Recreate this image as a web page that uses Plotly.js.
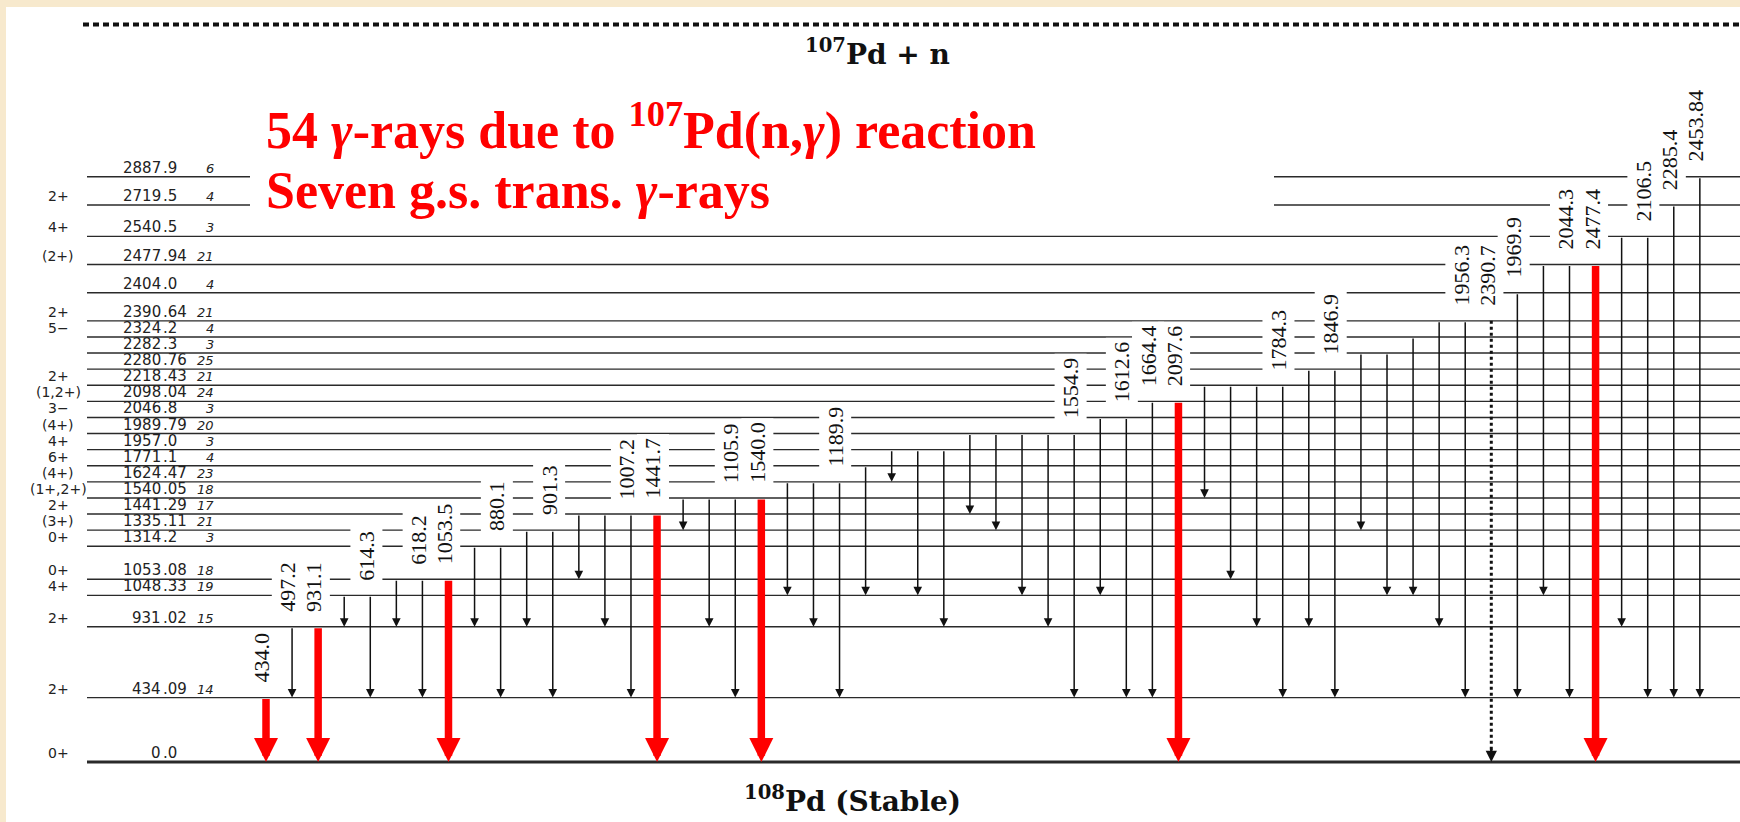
<!DOCTYPE html>
<html>
<head>
<meta charset="utf-8">
<script src="https://cdn.plot.ly/plotly-3.0.1.min.js"></script>
<style>
  html, body { margin: 0; padding: 0; background: #f7e9cd; }
  #chart { width: 1740px; height: 822px; }
</style>
</head>
<body>
<div id="chart"></div>
<script>
// ---- 108Pd levels populated by 107Pd(n,γ) ----
const levelEnergy = [0.0, 434.09, 931.02, 1048.33, 1053.08, 1314.2, 1335.11, 1441.29, 1540.05,
  1624.47, 1771.1, 1957.0, 1989.79, 2046.8, 2098.04, 2218.43, 2280.76, 2282.3, 2324.2,
  2390.64, 2404.0, 2477.94, 2540.5, 2719.5, 2887.9];
const levelLabel = ["0.0", "434.09", "931.02", "1048.33", "1053.08", "1314.2", "1335.11", "1441.29",
  "1540.05", "1624.47", "1771.1", "1957.0", "1989.79", "2046.8", "2098.04", "2218.43", "2280.76",
  "2282.3", "2324.2", "2390.64", "2404.0", "2477.94", "2540.5", "2719.5", "2887.9"];
const levelSpin = ["0+", "2+", "2+", "4+", "0+", "0+", "(3+)", "2+", "(1+,2+)", "(4+)", "6+", "4+",
  "(4+)", "3\u2212", "(1,2+)", "2+", "", "", "5\u2212", "2+", "", "(2+)", "4+", "2+", ""];
const levelIntensity = ["", "14", "15", "19", "18", "3", "21", "17", "18", "23", "4", "3", "20", "3",
  "24", "21", "25", "3", "4", "21", "4", "21", "3", "4", "6"];

// ---- γ transitions (initial level → final level), in drawing order ----
const gammaFrom = [434.09, 931.02, 931.02, 1048.33, 1048.33, 1053.08, 1053.08, 1053.08, 1314.2, 1314.2,
  1335.11, 1335.11, 1441.29, 1441.29, 1441.29, 1441.29, 1540.05, 1540.05, 1540.05, 1540.05,
  1624.47, 1624.47, 1624.47, 1771.1, 1957.0, 1957.0, 1957.0, 1989.79, 1989.79, 1989.79, 1989.79,
  1989.79, 2046.8, 2046.8, 2098.04, 2098.04, 2218.43, 2218.43, 2218.43, 2218.43, 2280.76, 2280.76,
  2282.3, 2282.3, 2324.2, 2390.64, 2390.64, 2390.64, 2404.0, 2477.94, 2477.94, 2477.94, 2540.5,
  2540.5, 2719.5, 2887.9];
const gammaTo = [0.0, 434.09, 0.0, 931.02, 434.09, 931.02, 434.09, 0.0, 931.02, 434.09,
  931.02, 434.09, 1053.08, 931.02, 434.09, 0.0, 1335.11, 931.02, 434.09, 0.0,
  1048.33, 931.02, 434.09, 1048.33, 1624.47, 1048.33, 931.02, 1441.29, 1335.11, 1048.33, 931.02,
  434.09, 1048.33, 434.09, 434.09, 0.0, 1540.05, 1053.08, 931.02, 434.09, 931.02, 434.09,
  1335.11, 1048.33, 1048.33, 931.02, 434.09, 0.0, 434.09, 1048.33, 434.09, 0.0, 931.02,
  434.09, 434.09, 434.09];
const gammaLabel = ["434.0", "497.2", "931.1", "", "614.3", "", "618.2", "1053.5", "", "880.1",
  "", "901.3", "", "", "1007.2", "1441.7", "", "", "1105.9", "1540.0",
  "", "", "1189.9", "", "", "", "", "", "", "",
  "", "1554.9", "", "1612.6", "1664.4", "2097.6", "", "", "", "1784.3",
  "", "1846.9", "", "", "", "", "1956.3", "2390.7", "1969.9", "",
  "2044.3", "2477.4", "", "2106.5", "2285.4", "2453.84"];
const tentativeGammas = ["2390.7"];

// ---- drawing layout (schematic level scheme, not to energy scale) ----
// vertical slot of each level, in rows above the ground state
const levelSlot = [0, 4, 8.4, 10.35, 11.35, 13.4, 14.4, 15.4, 16.4, 17.4, 18.4, 19.4, 20.4, 21.4,
  22.4, 23.4, 24.4, 25.4, 26.4, 27.4, 29.15, 30.9, 32.65, 34.6, 36.35];
const separationSlot = 45.8;   // 107Pd + n threshold line

const X0 = 6, Y0 = 7, W = 1734, H = 815;      // white drawing panel
const col0 = 266, colStep = 26.07;             // first transition column, column pitch (px)
const row0 = 762, rowStep = 16.1;              // ground-state line, row pitch (px)
const xRange = [-(col0 - X0) / colStep, (X0 + W - col0) / colStep];
const yRange = [-(Y0 + H - row0) / rowStep, (row0 - Y0) / rowStep];
const px = v => (v - X0) / W;
const py = v => 1 - (v - Y0) / H;

const slotOf = e => levelSlot[levelEnergy.indexOf(e)];

const shapes = [];
const annotations = [];
const traces = [];

// level lines
levelEnergy.forEach((e, i) => {
  shapes.push({
    type: 'line', xref: 'paper', yref: 'y', layer: 'below',
    x0: px(87), x1: 1, y0: levelSlot[i], y1: levelSlot[i],
    line: { color: '#2a2a2a', width: i === 0 ? 3 : 1.4 }
  });
});
// neutron separation threshold
shapes.push({
  type: 'line', xref: 'paper', yref: 'y', layer: 'below',
  x0: px(83), x1: 1, y0: separationSlot, y1: separationSlot,
  line: { color: '#111', width: 4, dash: '6px,4px' }
});
// panel behind the headline text
shapes.push({
  type: 'rect', xref: 'paper', yref: 'paper', layer: 'below',
  x0: px(250), x1: px(1274), y0: py(222), y1: py(92),
  fillcolor: '#ffffff', line: { width: 0 }
});

// level annotations: spin-parity, energy (decimal aligned), intensity
const levFont = { family: 'DejaVu Sans, sans-serif', size: 14, color: '#222' };
levelEnergy.forEach((e, i) => {
  const y = levelSlot[i];
  const base = { xref: 'paper', yref: 'y', y: y, yanchor: 'bottom', yshift: -1, showarrow: false };
  if (levelSpin[i]) annotations.push(Object.assign({}, base, {
    x: px(58), xanchor: 'center', text: levelSpin[i], font: levFont }));
  const parts = levelLabel[i].split('.');
  annotations.push(Object.assign({}, base, {
    x: px(162), xanchor: 'right', text: parts[0], font: Object.assign({}, levFont, { size: 15 }), borderpad: 0 }));
  annotations.push(Object.assign({}, base, {
    x: px(162), xanchor: 'left', text: '.' + parts[1], font: Object.assign({}, levFont, { size: 15 }), borderpad: 0 }));
  if (levelIntensity[i]) annotations.push(Object.assign({}, base, {
    x: px(216), xanchor: 'right', text: '<i>' + levelIntensity[i] + '</i>',
    font: Object.assign({}, levFont, { size: 13 }) }));
});

// transition energy labels (rotated, on a white ground that breaks the level lines)
gammaLabel.forEach((lab, i) => {
  if (!lab) return;
  annotations.push({
    xref: 'x', yref: 'y', x: i, y: slotOf(gammaFrom[i]),
    xanchor: 'center', yanchor: 'bottom', xshift: -4, yshift: 11,
    textangle: -90, text: lab, showarrow: false,
    font: { family: 'Liberation Serif, Times New Roman, serif', size: 22, color: '#111' },
    bgcolor: '#ffffff', borderpad: 3
  });
});

// transition arrows
gammaLabel.forEach((lab, i) => {
  const yFrom = slotOf(gammaFrom[i]);
  const yTo = slotOf(gammaTo[i]);
  const tentative = tentativeGammas.includes(lab);
  const groundState = gammaTo[i] === 0 && !tentative;
  if (tentative) {
    traces.push({
      type: 'scatter', mode: 'lines', x: [i, i], y: [yFrom, yTo + 0.6],
      line: { color: '#111', width: 3, dash: '3px,3px' }, hoverinfo: 'skip', showlegend: false
    });
    annotations.push({
      xref: 'x', yref: 'y', axref: 'x', ayref: 'y', x: i, y: yTo, ax: i, ay: yTo + 0.9,
      text: '', showarrow: true, arrowhead: 2, arrowwidth: 2.5, arrowsize: 0.9, arrowcolor: '#111', standoff: 0
    });
  } else if (groundState) {
    annotations.push({
      xref: 'x', yref: 'y', axref: 'x', ayref: 'y', x: i, y: yTo, ax: i, ay: yFrom,
      text: '', showarrow: true, arrowhead: 2, arrowwidth: 7.5, arrowsize: 0.64, arrowcolor: '#ff0000', standoff: 0
    });
  } else {
    annotations.push({
      xref: 'x', yref: 'y', axref: 'x', ayref: 'y', x: i, y: yTo, ax: i, ay: yFrom,
      text: '', showarrow: true, arrowhead: 2, arrowwidth: 1.5, arrowsize: 1.15, arrowcolor: '#111', standoff: 0
    });
  }
});

// headline and nucleus captions
const redFont = { family: 'Liberation Serif, Times New Roman, serif', size: 52, color: '#ff0000' };
annotations.push({
  xref: 'paper', yref: 'paper', x: px(264), y: py(127), xanchor: 'left', yanchor: 'middle',
  text: '<b>54 <i>\u03b3</i>-rays due to <sup>107</sup>Pd(n,<i>\u03b3</i>) reaction</b>', font: redFont, showarrow: false
});
annotations.push({
  xref: 'paper', yref: 'paper', x: px(264), y: py(190), xanchor: 'left', yanchor: 'middle',
  text: '<b>Seven g.s. trans. <i>\u03b3</i>-rays</b>', font: redFont, showarrow: false
});
const nucFont = { family: 'DejaVu Serif, serif', size: 28, color: '#111' };
annotations.push({
  xref: 'paper', yref: 'paper', x: px(877), y: py(52), xanchor: 'center', yanchor: 'middle',
  text: '<b><sup>107</sup>Pd + n</b>', font: nucFont, showarrow: false
});
annotations.push({
  xref: 'paper', yref: 'paper', x: px(852), y: py(799), xanchor: 'center', yanchor: 'middle',
  text: '<b><sup>108</sup>Pd (Stable)</b>', font: nucFont, showarrow: false
});

const layout = {
  width: 1740, height: 822,
  margin: { l: X0, r: 0, t: Y0, b: 0, pad: 0 },
  paper_bgcolor: '#f7e9cd', plot_bgcolor: '#ffffff',
  xaxis: { range: xRange, visible: false, fixedrange: true },
  yaxis: { range: yRange, visible: false, fixedrange: true },
  showlegend: false,
  shapes: shapes,
  annotations: annotations
};

Plotly.newPlot('chart', traces, layout, { displayModeBar: false, staticPlot: true });
</script>
</body>
</html>
